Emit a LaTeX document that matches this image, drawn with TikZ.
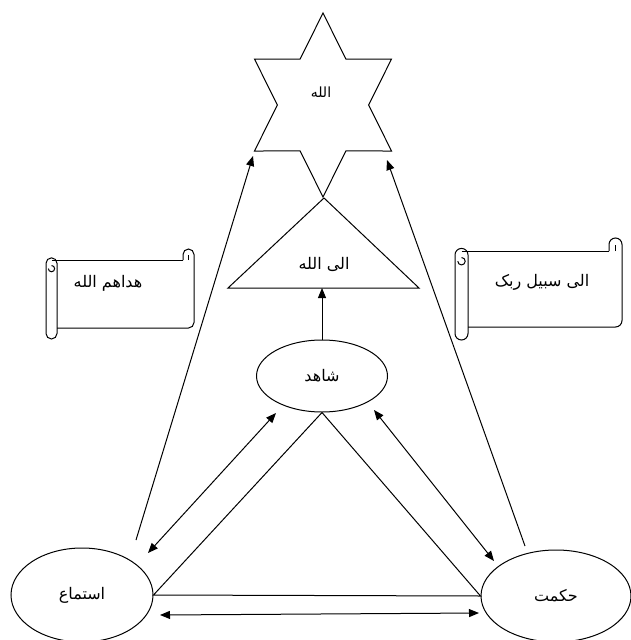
\documentclass[tikz,border=0pt]{standalone}
\usepackage{fontspec}
\usetikzlibrary{arrows.meta,shapes.geometric}
\TeXXeTstate=1
\newfontfamily\arabicfont[Script=Arabic]{DejaVu Sans}
\newcommand\ar[1]{{\arabicfont\beginR #1\endR}}
% horizontal scroll: #1,#2 = top left, #3,#4 = bottom right, #5 = roll width
\newcommand\drawscroll[5]{%
  % left roll
  \draw[shape line, rounded corners=#5/2] (#1,#2+#5*0.8) rectangle (#1+#5,#4);
  \draw[shape line] (#1+#5/2,#2+#5*1.5) arc[start angle=-90,end angle=180,radius=#5/3.5];
  % top edge, top-right curl, right edge, bottom edge
  \draw[shape line] (#1+#5/2,#2+#5) -- (#3-#5,#2+#5);
  \draw[shape line, rounded corners=#5/2] (#3-#5,#2+#5) -- (#3-#5,#2) -- (#3,#2) -- (#3,#4-#5) -- (#1+#5,#4-#5);
  \draw[shape line] (#3-#5/2,#2+#5) -- (#3-#5/2,#2+#5/2);
}
\tikzset{
  shape line/.style={draw=black, line width=1pt},
  arfont/.style={font=\arabicfont\fontsize{16}{18}\selectfont},
  oval/.style={ellipse, shape line, inner sep=0pt, arfont},
  tip/.style={-{Triangle[length=10pt,width=8pt]}, line width=1pt},
  twotip/.style={{Triangle[length=10pt,width=8pt]}-{Triangle[length=10pt,width=8pt]}, line width=1pt},
  word/.style={arfont, inner sep=0pt},
}
\begin{document}
\begin{tikzpicture}[x=1pt,y=-1pt]
\useasboundingbox (0,0) rectangle (631,640);

% six-pointed star, slightly narrowed
\begin{scope}[shift={(323,105)}]
  \draw[shape line] (0,-92) \foreach \a in {150,210,...,450} {
      -- ({0.86*cos(\a-30)*53.1},{-sin(\a-30)*53.1}) -- ({0.86*cos(\a)*92},{-sin(\a)*92})} -- cycle;
\end{scope}
\node[word, font=\arabicfont\fontsize{14}{16}\selectfont] (star) at (321,92) {\ar{الله}};
\coordinate (starL) at (253,156);
\coordinate (starR) at (387,160);

% triangle
\draw[shape line] (324,198) -- (419,288) -- (228,288) -- cycle;
\coordinate (triBase) at (322,288);
\node[word] (tri) at (324,264) {\ar{الی الله}};

% ovals
\node[oval, minimum width=131pt, minimum height=72pt] (shahid) at (322,376) {\ar{شاهد}};
\node[oval, minimum width=142pt, minimum height=94pt] (istima) at (82,595) {\ar{استماع}};
\node[oval, minimum width=150pt, minimum height=92pt] (hikmat) at (556,596) {\ar{حکمت}};

% scrolls
\drawscroll{46}{249}{194}{339}{11}
\node[word] (hadahum) at (108,283) {\ar{هداهم الله}};
\drawscroll{455}{238}{622}{340}{13}
\node[word] (sabil) at (542,282) {\ar{الی سبیل ربک}};

% inner triangle of ovals
\draw[shape line] (shahid.south) -- (istima.east) -- (hikmat.west) -- cycle;

% arrows
\draw[tip] (shahid.north) -- (triBase);
\coordinate (iUp) at (136,540);
\coordinate (hUp) at (525,546);
\draw[tip] (iUp) -- (starL);
\draw[tip] (hUp) -- (starR);
\coordinate (a1) at (148,553);
\coordinate (a2) at (276,413);
\coordinate (b1) at (374,410);
\coordinate (b2) at (494,561);
\coordinate (c1) at (160,615);
\coordinate (c2) at (479,613);
\draw[twotip] (a1) -- (a2);
\draw[twotip] (b1) -- (b2);
\draw[twotip] (c1) -- (c2);
\end{tikzpicture}
\end{document}
